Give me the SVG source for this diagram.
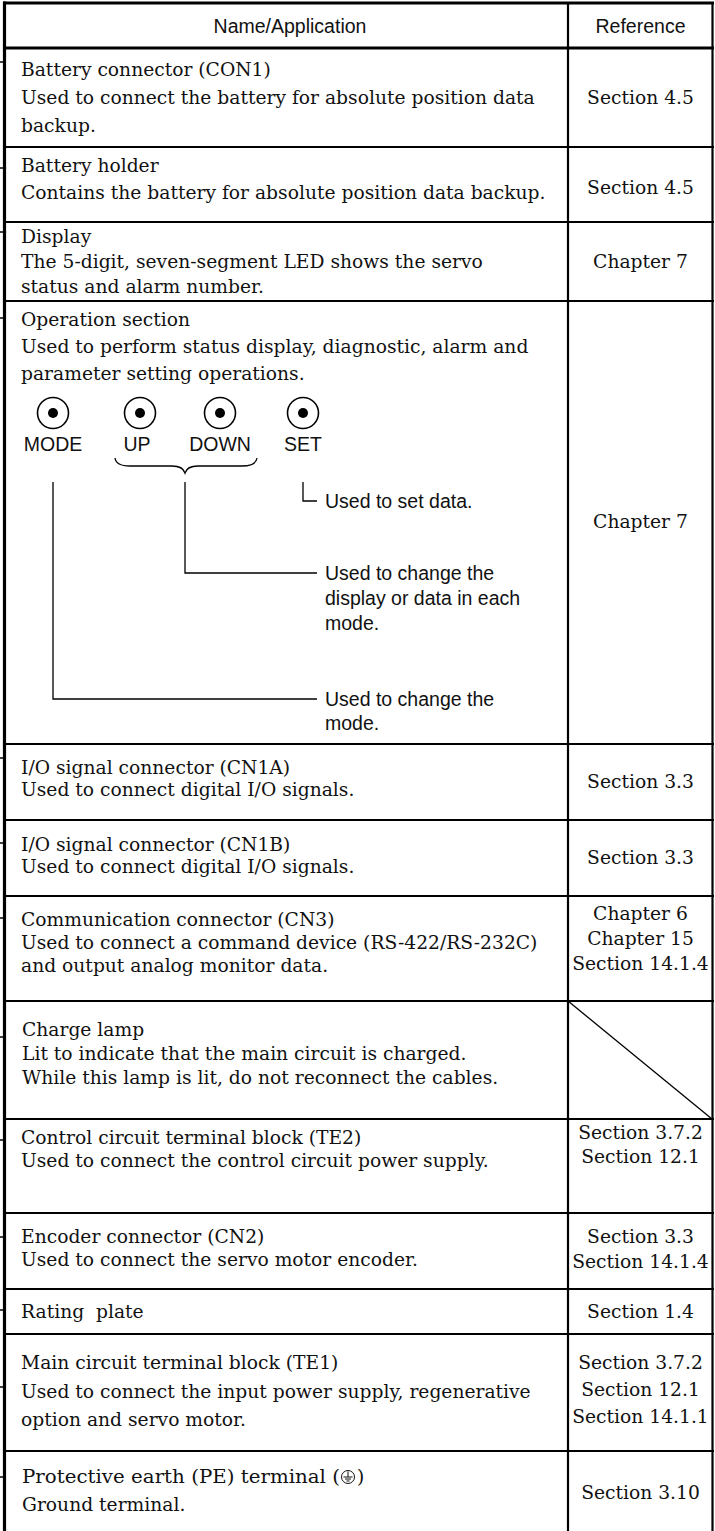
<svg xmlns="http://www.w3.org/2000/svg" width="715" height="1531" viewBox="0 0 715 1531">
<style>
.s{font-family:"DejaVu Serif","Liberation Serif",serif;font-size:18.7px;fill:#111}
.r{font-family:"DejaVu Serif","Liberation Serif",serif;font-size:18.7px;fill:#111;text-anchor:middle}
.a{font-family:"Liberation Sans",Arial,sans-serif;font-size:19.5px;fill:#111}
.h{font-family:"Liberation Sans",Arial,sans-serif;font-size:19.5px;fill:#111;text-anchor:middle}
.thick{stroke:#000;stroke-width:3.2;fill:none}
.rule{stroke:#000;stroke-width:2.2;fill:none}
.tick{stroke:#000;stroke-width:1.5;fill:none}
.lead{stroke:#000;stroke-width:1.3;fill:none}
.btn{stroke:#000;stroke-width:1.6;fill:#fff}
.gnd{stroke:#111;stroke-width:1;fill:none}
</style>
<rect width="715" height="1531" fill="#fff"/>
<g id="grid">
<line class="thick" x1="4.5" y1="1.5" x2="4.5" y2="1531"/>
<line class="thick" x1="3" y1="3" x2="714" y2="3"/>
<line class="thick" x1="3" y1="48" x2="714" y2="48"/>
<line class="rule" x1="568" y1="3" x2="568" y2="1531"/>
<line class="rule" x1="712.5" y1="3" x2="712.5" y2="1531"/>
<line class="rule" x1="4" y1="147" x2="714" y2="147"/>
<line class="rule" x1="4" y1="222" x2="714" y2="222"/>
<line class="rule" x1="4" y1="301" x2="714" y2="301"/>
<line class="rule" x1="4" y1="744" x2="714" y2="744"/>
<line class="rule" x1="4" y1="820" x2="714" y2="820"/>
<line class="rule" x1="4" y1="896" x2="714" y2="896"/>
<line class="rule" x1="4" y1="1001" x2="714" y2="1001"/>
<line class="rule" x1="4" y1="1119" x2="714" y2="1119"/>
<line class="rule" x1="4" y1="1213" x2="714" y2="1213"/>
<line class="rule" x1="4" y1="1289" x2="714" y2="1289"/>
<line class="rule" x1="4" y1="1334" x2="714" y2="1334"/>
<line class="rule" x1="4" y1="1451" x2="714" y2="1451"/>
<line class="lead" x1="568" y1="1001" x2="712" y2="1119"/>
</g>
<g id="ticks">
<line class="tick" x1="0" y1="62" x2="4" y2="62"/>
<line class="tick" x1="0" y1="168" x2="4" y2="168"/>
<line class="tick" x1="0" y1="232" x2="4" y2="232"/>
<line class="tick" x1="0" y1="318" x2="4" y2="318"/>
<line class="tick" x1="0" y1="758" x2="4" y2="758"/>
<line class="tick" x1="0" y1="843" x2="4" y2="843"/>
<line class="tick" x1="0" y1="918" x2="4" y2="918"/>
<line class="tick" x1="0" y1="1037" x2="4" y2="1037"/>
<line class="tick" x1="0" y1="1140" x2="4" y2="1140"/>
<line class="tick" x1="0" y1="1237" x2="4" y2="1237"/>
<line class="tick" x1="0" y1="1310" x2="4" y2="1310"/>
<line class="tick" x1="0" y1="1387" x2="4" y2="1387"/>
<line class="tick" x1="0" y1="1477" x2="4" y2="1477"/>
</g>
<g id="header">
<text class="h" x="290" y="33">Name/Application</text>
<text class="h" x="640.5" y="33">Reference</text>
</g>
<g id="row-con1">
<text class="s" x="21" y="76">Battery connector (CON1)</text>
<text class="s" x="21" y="104">Used to connect the battery for absolute position data</text>
<text class="s" x="21" y="132">backup.</text>
<text class="r" x="640.5" y="104">Section 4.5</text>
</g>
<g id="row-holder">
<text class="s" x="21" y="172">Battery holder</text>
<text class="s" x="21" y="199">Contains the battery for absolute position data backup.</text>
<text class="r" x="640.5" y="194">Section 4.5</text>
</g>
<g id="row-display">
<text class="s" x="21" y="243">Display</text>
<text class="s" x="21" y="268">The 5-digit, seven-segment LED shows the servo</text>
<text class="s" x="21" y="293">status and alarm number.</text>
<text class="r" x="640.5" y="268">Chapter 7</text>
</g>
<g id="row-operation">
<text class="s" x="21" y="326">Operation section</text>
<text class="s" x="21" y="353">Used to perform status display, diagnostic, alarm and</text>
<text class="s" x="21" y="380">parameter setting operations.</text>
<text class="r" x="640.5" y="528">Chapter 7</text>
</g>
<g id="btn-mode">
<circle class="btn" cx="53" cy="413" r="15.5"/>
<circle cx="53" cy="413" r="5" fill="#000"/>
<text class="a" x="53" y="451" text-anchor="middle">MODE</text>
</g>
<g id="btn-up">
<circle class="btn" cx="140" cy="413" r="15.5"/>
<circle cx="140" cy="413" r="5" fill="#000"/>
<text class="a" x="137" y="451" text-anchor="middle">UP</text>
</g>
<g id="btn-down">
<circle class="btn" cx="220" cy="413" r="15.5"/>
<circle cx="220" cy="413" r="5" fill="#000"/>
<text class="a" x="220" y="451" text-anchor="middle">DOWN</text>
</g>
<g id="btn-set">
<circle class="btn" cx="303" cy="413" r="15.5"/>
<circle cx="303" cy="413" r="5" fill="#000"/>
<text class="a" x="303" y="451" text-anchor="middle">SET</text>
</g>
<g id="note-set">
<text class="a" x="325" y="508">Used to set data.</text>
</g>
<g id="note-updown">
<text class="a" x="325" y="580">Used to change the</text>
<text class="a" x="325" y="605">display or data in each</text>
<text class="a" x="325" y="630">mode.</text>
</g>
<g id="note-mode">
<text class="a" x="325" y="706">Used to change the</text>
<text class="a" x="325" y="730">mode.</text>
</g>
<g id="connectors">
<path class="lead" d="M115,458 Q116,466 130,466 L172,466 Q183,466 185,473 Q187,466 198,466 L242,466 Q256,466 257,458"/>
<polyline class="lead" points="303,482 303,501 317,501"/>
<polyline class="lead" points="185,482 185,573 317,573"/>
<polyline class="lead" points="53,482 53,699 317,699"/>
</g>
<g id="row-cn1a">
<text class="s" x="21" y="774">I/O signal connector (CN1A)</text>
<text class="s" x="21" y="796">Used to connect digital I/O signals.</text>
<text class="r" x="640.5" y="788">Section 3.3</text>
</g>
<g id="row-cn1b">
<text class="s" x="21" y="851">I/O signal connector (CN1B)</text>
<text class="s" x="21" y="873">Used to connect digital I/O signals.</text>
<text class="r" x="640.5" y="864">Section 3.3</text>
</g>
<g id="row-cn3">
<text class="s" x="21" y="926">Communication connector (CN3)</text>
<text class="s" x="21" y="949">Used to connect a command device (RS-422/RS-232C)</text>
<text class="s" x="21" y="972">and output analog monitor data.</text>
<text class="r" x="640.5" y="920">Chapter 6</text>
<text class="r" x="640.5" y="945">Chapter 15</text>
<text class="r" x="640.5" y="970">Section 14.1.4</text>
</g>
<g id="row-charge">
<text class="s" x="22" y="1036">Charge lamp</text>
<text class="s" x="22" y="1060">Lit to indicate that the main circuit is charged.</text>
<text class="s" x="22" y="1084">While this lamp is lit, do not reconnect the cables.</text>
</g>
<g id="row-te2">
<text class="s" x="21" y="1144">Control circuit terminal block (TE2)</text>
<text class="s" x="21" y="1167">Used to connect the control circuit power supply.</text>
<text class="r" x="640.5" y="1139">Section 3.7.2</text>
<text class="r" x="640.5" y="1163">Section 12.1</text>
</g>
<g id="row-cn2">
<text class="s" x="21" y="1243">Encoder connector (CN2)</text>
<text class="s" x="21" y="1266">Used to connect the servo motor encoder.</text>
<text class="r" x="640.5" y="1243">Section 3.3</text>
<text class="r" x="640.5" y="1268">Section 14.1.4</text>
</g>
<g id="row-plate">
<text class="s" x="21" y="1318">Rating&#160; plate</text>
<text class="r" x="640.5" y="1318">Section 1.4</text>
</g>
<g id="row-te1">
<text class="s" x="21" y="1369">Main circuit terminal block (TE1)</text>
<text class="s" x="21" y="1398">Used to connect the input power supply, regenerative</text>
<text class="s" x="21" y="1426">option and servo motor.</text>
<text class="r" x="640.5" y="1369">Section 3.7.2</text>
<text class="r" x="640.5" y="1396">Section 12.1</text>
<text class="r" x="640.5" y="1423">Section 14.1.1</text>
</g>
<g id="row-pe">
<text class="s" x="22" y="1483" textLength="318" lengthAdjust="spacingAndGlyphs">Protective earth (PE) terminal (</text>
<circle class="gnd" cx="348" cy="1477" r="6.5"/>
<line class="gnd" x1="348" y1="1471.5" x2="348" y2="1477"/>
<line class="gnd" x1="343.5" y1="1477" x2="352.5" y2="1477"/>
<line class="gnd" x1="345" y1="1479" x2="351" y2="1479"/>
<line class="gnd" x1="346.5" y1="1481" x2="349.5" y2="1481"/>
<text class="s" x="357" y="1483">)</text>
<text class="s" x="22" y="1511">Ground terminal.</text>
<text class="r" x="640.5" y="1499">Section 3.10</text>
</g>
</svg>
